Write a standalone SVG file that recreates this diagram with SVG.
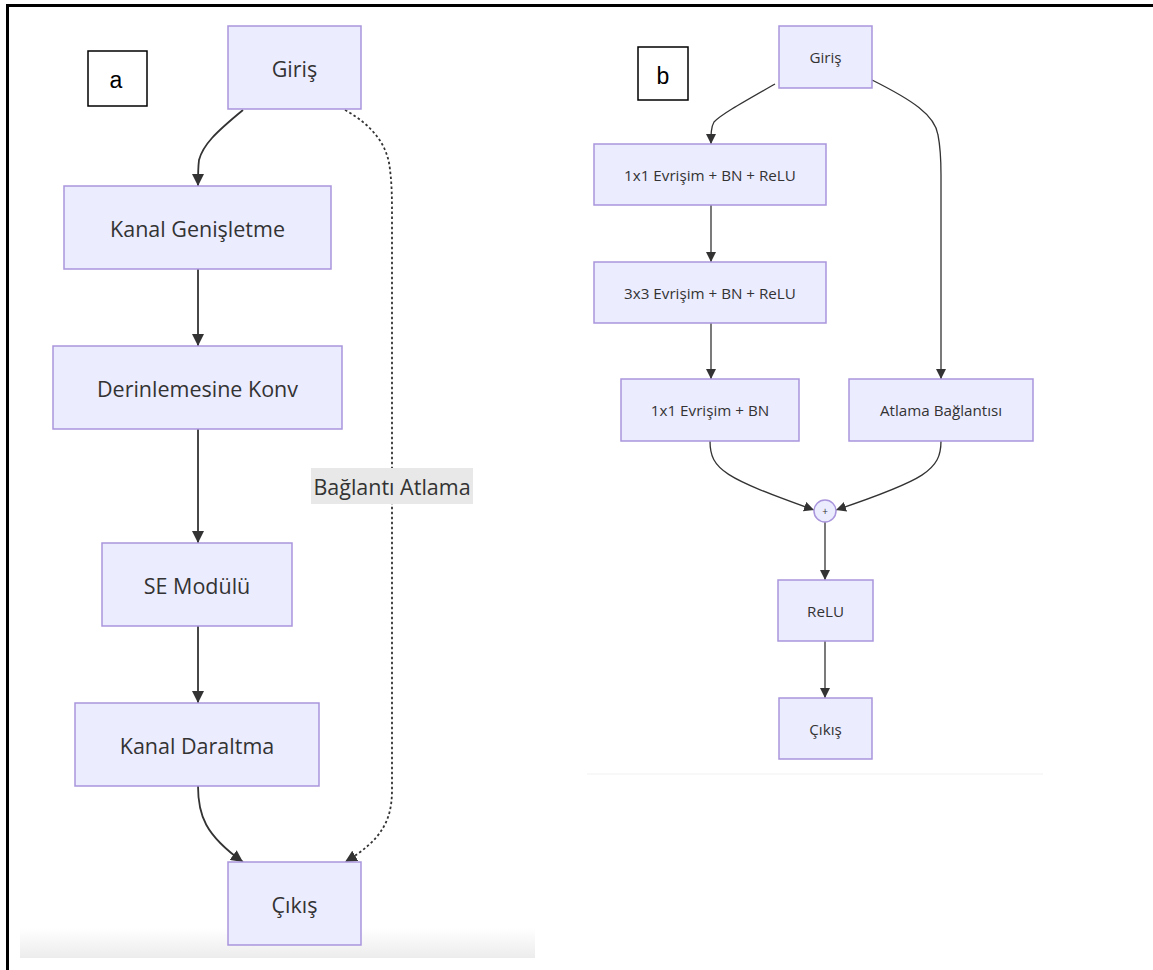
<svg xmlns="http://www.w3.org/2000/svg" width="1153" height="970" viewBox="0 0 1153 970">
<defs>
<linearGradient id="fade" x1="0" y1="0" x2="0" y2="1">
<stop offset="0" stop-color="#ffffff"/>
<stop offset="1" stop-color="#ececec"/>
</linearGradient>
<marker id="ahA" viewBox="0 0 10 10" refX="10" refY="5" markerWidth="12" markerHeight="12" markerUnits="userSpaceOnUse" orient="auto">
<path d="M0,0 L10,5 L0,10 z" fill="#333"/>
</marker>
<marker id="ahB" viewBox="0 0 10 10" refX="10" refY="5" markerWidth="10" markerHeight="10" markerUnits="userSpaceOnUse" orient="auto">
<path d="M0,0 L10,5 L0,10 z" fill="#333"/>
</marker>
</defs>
<style>
.node{fill:#ECECFF;stroke:#A995DC;stroke-width:1.5}
.lbl{fill:#fff;stroke:#000;stroke-width:1.5}
.ta{font-family:"Open Sans","Noto Sans",sans-serif;font-size:21.5px;fill:#333;text-anchor:middle;dominant-baseline:central}
.tb{font-family:"Open Sans","Noto Sans",sans-serif;font-size:15.2px;fill:#333;text-anchor:middle;dominant-baseline:central}
.tl{font-family:"Liberation Sans",Arial,sans-serif;font-size:23px;fill:#000;text-anchor:middle;dominant-baseline:central}
.ea{fill:none;stroke:#333;stroke-width:1.8;marker-end:url(#ahA)}
.eb{fill:none;stroke:#333;stroke-width:1.3;marker-end:url(#ahB)}
.dot{fill:none;stroke:#333;stroke-width:1.8;stroke-dasharray:2.5,2.5;marker-end:url(#ahA)}
</style>
<rect x="0" y="0" width="1153" height="970" fill="#fff"/>
<rect x="20" y="928" width="515" height="30" fill="url(#fade)"/>
<line x1="587" y1="774" x2="1043" y2="774" stroke="#f8f8f8" stroke-width="2"/>
<path d="M7.5,970 V5.5 H1153" fill="none" stroke="#000" stroke-width="3"/>

<g id="connectors">
<path class="ea" d="M243,110 C215,133 203,145 199,160 C198,168 198,175 198,186"/>
<path class="ea" d="M198,269 V346"/>
<path class="ea" d="M198,429 V543"/>
<path class="ea" d="M198,626 V703"/>
<path class="ea" d="M198,786 C198,815 205,835 243,862"/>
<path class="dot" d="M345,110 C372,125 388,145 390,170 C392,185 392,200 392,220 V790 C392,820 382,840 345,862"/>
<rect x="311" y="468" width="162" height="36" fill="#e8e8e8"/>
<text class="ta" x="392" y="486">Bağlantı Atlama</text>

<path class="eb" d="M775,84 C740,104 722,114 714,122 C711,127 711,134 711,144"/>
<path class="eb" d="M711,205 V262"/>
<path class="eb" d="M711,323 V379"/>
<path class="eb" d="M872,80 C912,100 935,115 938,135 C941,150 941,160 941,175 V379"/>
<path class="eb" d="M710,441 C710,470 725,478 814,510"/>
<path class="eb" d="M941,441 C941,470 925,480 836,510"/>
<path class="eb" d="M825,522 V580"/>
<path class="eb" d="M825,641 V698"/>
</g>

<g id="label-a"><rect class="lbl" x="88" y="51" width="59" height="55"/><text class="tl" x="116" y="80">a</text></g>
<g id="label-b"><rect class="lbl" x="638" y="47" width="50" height="53"/><text class="tl" x="663" y="76">b</text></g>

<g id="a-giris"><rect class="node" x="228" y="26" width="133" height="83"/><text class="ta" x="294.5" y="68">Giriş</text></g>
<g id="a-kanal-genisletme"><rect class="node" x="64" y="186" width="267" height="83"/><text class="ta" x="197.5" y="228">Kanal Genişletme</text></g>
<g id="a-derinlemesine"><rect class="node" x="53" y="346" width="289" height="83"/><text class="ta" x="197.5" y="388">Derinlemesine Konv</text></g>
<g id="a-se"><rect class="node" x="102" y="543" width="190" height="83"/><text class="ta" x="197" y="585">SE Modülü</text></g>
<g id="a-kanal-daraltma"><rect class="node" x="75" y="703" width="244" height="83"/><text class="ta" x="197" y="745">Kanal Daraltma</text></g>
<g id="a-cikis"><rect class="node" x="228" y="862" width="133" height="83"/><text class="ta" x="294.5" y="904">Çıkış</text></g>

<g id="b-giris"><rect class="node" x="779" y="26" width="93" height="62"/><text class="tb" x="825.5" y="57">Giriş</text></g>
<g id="b-conv1"><rect class="node" x="594" y="144" width="232" height="61"/><text class="tb" x="710" y="175">1x1 Evrişim + BN + ReLU</text></g>
<g id="b-conv3"><rect class="node" x="594" y="262" width="232" height="61"/><text class="tb" x="710" y="293">3x3 Evrişim + BN + ReLU</text></g>
<g id="b-conv1bn"><rect class="node" x="621" y="379" width="178" height="62"/><text class="tb" x="710" y="410">1x1 Evrişim + BN</text></g>
<g id="b-atlama"><rect class="node" x="849" y="379" width="184" height="62"/><text class="tb" x="941" y="410">Atlama Bağlantısı</text></g>
<g id="b-plus"><circle class="node" cx="825" cy="511" r="11"/><text class="tb" x="825" y="511" style="font-size:10px">+</text></g>
<g id="b-relu"><rect class="node" x="778" y="580" width="95" height="61"/><text class="tb" x="825.5" y="611">ReLU</text></g>
<g id="b-cikis"><rect class="node" x="779" y="698" width="93" height="61"/><text class="tb" x="825.5" y="729">Çıkış</text></g>
</svg>
